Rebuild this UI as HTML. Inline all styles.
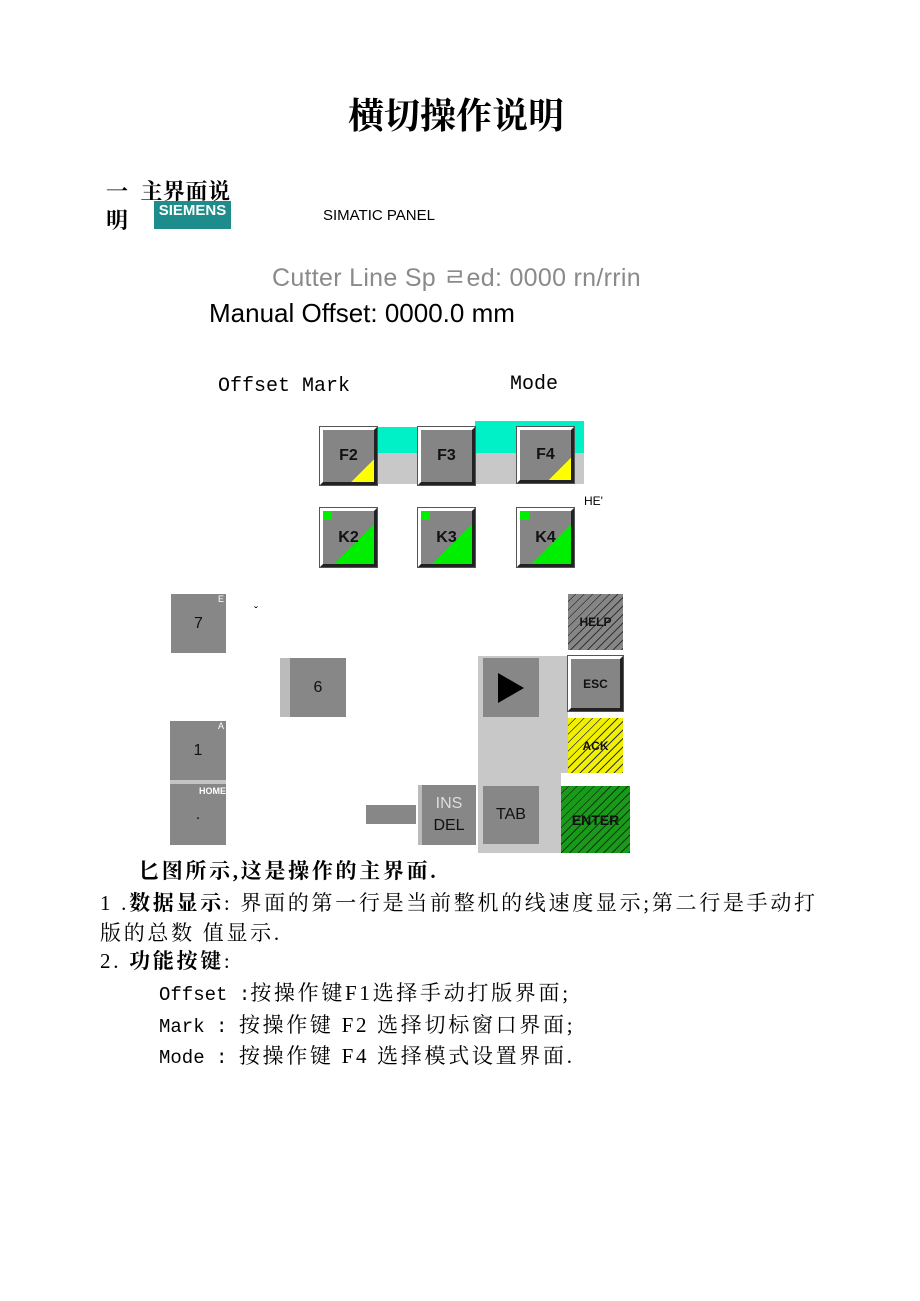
<!DOCTYPE html>
<html><head><meta charset="utf-8"><style>
body{margin:0;width:920px;height:1301px;background:#fff;position:relative;overflow:hidden;font-family:"Liberation Sans","Noto Sans CJK SC",sans-serif}
.a{position:absolute;white-space:nowrap}
.s{font-family:"Liberation Serif","Noto Serif CJK SC",serif}
.k{position:absolute;background:#878787;color:#111;display:flex;align-items:center;justify-content:center;font-size:16px}
.b{position:absolute;background:#858585;box-sizing:border-box;border-top:3px solid #fff;border-left:3px solid #fff;border-right:3px solid #222;border-bottom:3px solid #222;display:flex;align-items:center;justify-content:center;font-weight:bold;font-size:16px;color:#111;outline:1px solid #555}
.h{position:absolute;box-sizing:border-box;display:flex;align-items:center;justify-content:center;font-weight:bold;font-size:12px;color:#111}
.t{font-size:21px;letter-spacing:2.7px}
.m{font-family:'Liberation Mono',monospace;letter-spacing:0;font-size:19px}
</style></head><body>
<div class="a s" style="left:348px;top:88px;font-size:36px;font-weight:bold">横切操作说明</div>
<div class="a s" style="left:106px;top:175px;font-size:22px;font-weight:bold;letter-spacing:0.5px">一&nbsp;&nbsp;主界面说</div>
<div class="a s" style="left:106px;top:204px;font-size:22px;font-weight:bold">明</div>
<div class="a" style="left:154px;top:201px;width:77px;height:28px;background:#1f8c8c;color:#fff;font-weight:bold;font-size:15px;text-align:center;line-height:20px">SIEMENS</div>
<div class="a" style="left:323px;top:207px;font-size:15px">SIMATIC PANEL</div>
<div class="a" style="left:272px;top:258px;font-size:25px;color:#8a8a8a;letter-spacing:0.3px">Cutter Line Sp ㄹed: 0000 rn/rrin</div>
<div class="a" style="left:209px;top:298px;font-size:26px">Manual Offset: 0000.0 mm</div>
<div class="a" style="left:218px;top:375px;font-size:20px;font-family:'Liberation Mono',monospace">Offset Mark</div>
<div class="a" style="left:510px;top:373px;font-size:20px;font-family:'Liberation Mono',monospace">Mode</div>
<div class="a" style="left:377px;top:427px;width:98px;height:26px;background:#00f0c8"></div>
<div class="a" style="left:475px;top:421px;width:109px;height:32px;background:#00f0c8"></div>
<div class="a" style="left:377px;top:453px;width:207px;height:31px;background:#c8c8c8"></div>
<div class="b" style="left:320px;top:427px;width:57px;height:58px;background:linear-gradient(135deg,#858585 78%,#ff0 78%)">F2</div>
<div class="b" style="left:418px;top:427px;width:57px;height:58px">F3</div>
<div class="b" style="left:517px;top:427px;width:57px;height:56px;background:linear-gradient(135deg,#858585 78%,#ff0 78%)">F4</div>
<div class="a" style="left:584px;top:494px;font-size:12px">HE'</div>
<div class="b" style="left:320px;top:508px;width:57px;height:59px;background:linear-gradient(135deg,#858585 62%,#0e0 62%)">K2<span style="position:absolute;left:0;top:0;width:9px;height:9px;background:#0e0"></span></div>
<div class="b" style="left:418px;top:508px;width:57px;height:59px;background:linear-gradient(135deg,#858585 62%,#0e0 62%)">K3<span style="position:absolute;left:0;top:0;width:9px;height:9px;background:#0e0"></span></div>
<div class="b" style="left:517px;top:508px;width:57px;height:59px;background:linear-gradient(135deg,#858585 62%,#0e0 62%)">K4<span style="position:absolute;left:0;top:0;width:9px;height:9px;background:#0e0"></span></div>
<div class="k" style="left:171px;top:594px;width:55px;height:59px">7<span style="position:absolute;right:2px;top:0;font-size:9px;color:#fff">E</span></div>
<div class="a" style="left:254px;top:604px;font-size:12px">ˇ</div>
<div class="a" style="left:280px;top:658px;width:10px;height:59px;background:#bbb"></div>
<div class="k" style="left:290px;top:658px;width:56px;height:59px">6</div>
<div class="k" style="left:170px;top:721px;width:56px;height:59px">1<span style="position:absolute;right:2px;top:0;font-size:9px;color:#fff">A</span></div>
<div class="a" style="left:170px;top:780px;width:56px;height:4px;background:#c4c4c4"></div>
<div class="k" style="left:170px;top:784px;width:56px;height:61px">.<span style="position:absolute;right:0;top:2px;font-size:9px;color:#fff;font-weight:bold">HOME</span></div>
<div class="k" style="left:366px;top:805px;width:50px;height:19px"></div>
<div class="a" style="left:418px;top:785px;width:4px;height:60px;background:#bbb"></div>
<div class="k" style="left:422px;top:785px;width:54px;height:60px;flex-direction:column;line-height:22px"><span style="color:#ddd">INS</span><span>DEL</span></div>
<div class="a" style="left:478px;top:656px;width:90px;height:197px;background:#c8c8c8"></div>
<div class="a" style="left:561px;top:773px;width:69px;height:13px;background:#fff"></div>
<div class="k" style="left:483px;top:658px;width:56px;height:59px"><span style="width:0;height:0;border-left:26px solid #000;border-top:15px solid transparent;border-bottom:15px solid transparent"></span></div>
<div class="k" style="left:483px;top:786px;width:56px;height:58px">TAB</div>
<div class="h" style="left:568px;top:594px;width:55px;height:56px;background:repeating-linear-gradient(135deg,#868686 0 5px,#333 5px 6px)">HELP</div>
<div class="b" style="left:568px;top:656px;width:55px;height:55px;font-size:12px">ESC</div>
<div class="h" style="left:568px;top:718px;width:55px;height:55px;background:repeating-linear-gradient(135deg,#f0f000 0 5px,#333 5px 6px)">ACK</div>
<div class="h" style="left:561px;top:786px;width:69px;height:67px;background:repeating-linear-gradient(135deg,#1a9a1a 0 5px,#0a3a0a 5px 6px);font-size:14px">ENTER</div>
<div class="a s t" style="left:138px;top:855px;font-weight:bold">匕图所示,这是操作的主界面.</div>
<div class="a s t" style="left:100px;top:887px">1 .<b>数据显示</b>: 界面的第一行是当前整机的线速度显示;第二行是手动打</div>
<div class="a s t" style="left:100px;top:917px">版的总数 值显示.</div>
<div class="a s t" style="left:100px;top:945px">2. <b>功能按键</b>:</div>
<div class="a s t" style="left:159px;top:977px"><span class="m">Offset :</span>按操作键F1选择手动打版界面;</div>
<div class="a s t" style="left:159px;top:1009px"><span class="m">Mark : </span>按操作键 F2 选择切标窗口界面;</div>
<div class="a s t" style="left:159px;top:1040px"><span class="m">Mode : </span>按操作键 F4 选择模式设置界面.</div>
</body></html>
